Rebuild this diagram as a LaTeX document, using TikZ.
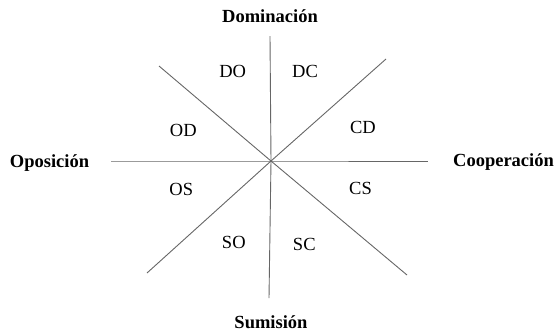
\documentclass[tikz,border=0pt]{standalone}
\usepackage{fontspec}
\setmainfont{Liberation Serif}
\usepackage{tikz}

\tikzset{
	axisline/.style={line width=0.9pt, color=black!60},
	octlabel/.style={anchor=base, inner sep=0pt, font=\fontsize{18.5}{21}\selectfont},
	polelabel/.style={anchor=base, inner sep=0pt, font=\fontsize{18.5}{21}\selectfont\bfseries}
}

\begin{document}
\begin{tikzpicture}[x=1pt, y=-1pt]
			%%%%% START %%%%%
			
			\useasboundingbox (0, 0) rectangle (557, 333);
			
			\coordinate (centre) at (271, 161);
			\coordinate (north) at (270, 36);
			\coordinate (south) at (269, 298);
			\coordinate (west) at (111, 161);
			\coordinate (east) at (428, 161);
			\coordinate (northwest) at (159, 66);
			\coordinate (southeast) at (407, 275);
			\coordinate (northeast) at (386, 59);
			\coordinate (southwest) at (147, 273);
			
			\draw[axisline] (north) -- (centre) -- (south);
			\draw[axisline] (west) -- (centre) -- (east);
			\draw[axisline] (northwest) -- (centre) -- (southeast);
			\draw[axisline] (northeast) -- (centre) -- (southwest);
			
			\node[polelabel] (dominacion) at (270, 22.5) {Dominación};
			\node[polelabel] (sumision) at (271, 328) {Sumisión};
			\node[polelabel] (oposicion) at (49.5, 167) {Oposición};
			\node[polelabel] (cooperacion) at (503.5, 166.7) {Cooperación};
			
			\node[octlabel] (do) at (232.7, 77.3) {DO};
			\node[octlabel] (dc) at (305, 77) {DC};
			\node[octlabel] (od) at (183.3, 136.5) {OD};
			\node[octlabel] (cd) at (363, 133.3) {CD};
			\node[octlabel] (os) at (181.3, 195) {OS};
			\node[octlabel] (cs) at (360.5, 194) {CS};
			\node[octlabel] (so) at (233.8, 248.3) {SO};
			\node[octlabel] (sc) at (304.3, 250) {SC};
			
			%%%%% END %%%%%
\end{tikzpicture}
\end{document}
